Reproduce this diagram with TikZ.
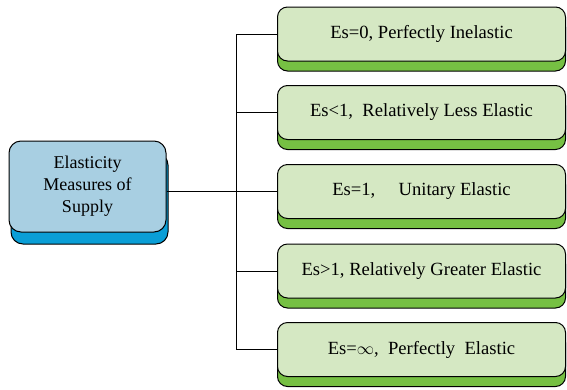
\documentclass[tikz,border=0pt]{standalone}
\usepackage{fontspec}
\setmainfont{Liberation Serif}
\usetikzlibrary{shadows}
\definecolor{leaffill}{HTML}{D5E8C3}
\definecolor{leafshadow}{HTML}{76C043}
\definecolor{rootfill}{HTML}{A8CFE2}
\definecolor{rootshadow}{HTML}{0A9ED6}
\begin{document}
\begin{tikzpicture}[x=1pt,y=-1pt,
  leaf/.style={draw=black, line width=1pt, fill=leaffill, rounded corners=10pt,
    minimum width=288pt, minimum height=54pt, inner sep=0pt,
    font=\fontsize{18.6}{22}\selectfont,
    general shadow={shadow yshift=-10pt, fill=leafshadow, draw=black, line width=1pt}},
  root/.style={draw=black, line width=1pt, fill=rootfill, rounded corners=12pt,
    minimum width=157pt, minimum height=91pt, inner sep=0pt, align=center,
    font=\fontsize{18}{22}\selectfont,
    general shadow={shadow xshift=2pt, shadow yshift=-12pt, fill=rootshadow, draw=black, line width=1pt}},
  link/.style={draw=black, line width=1pt}]
\useasboundingbox (0,0) rectangle (567,389);

% main measure on the left
\node[root] (root) at (87.5,186.5) {Elasticity\\Measures of\\Supply};

% the five cases on the right
\node[leaf] (l1) at (421.5,34)  {Es=0, Perfectly Inelastic};
\node[leaf] (l2) at (421.5,112.5) {Es<1,\ \ Relatively Less Elastic};
\node[leaf] (l3) at (421.5,191.5) {Es=1,\ \ \ \ \ Unitary Elastic};
\node[leaf] (l4) at (421.5,271) {Es>1, Relatively Greater Elastic};
\node[leaf] (l5) at (421.5,349.5) {Es=$\infty$,\ \ Perfectly\ \ Elastic};

% tree connectors
\coordinate (bus) at (236.5,191.5);
\draw[link] (l1.west) -| (bus) |- (l5.west);
\draw[link] (l2.west) -- (l2.west -| bus);
\draw[link] (l4.west) -- (l4.west -| bus);
\draw[link] (root.east |- l3.west) -- (l3.west);
\end{tikzpicture}
\end{document}
